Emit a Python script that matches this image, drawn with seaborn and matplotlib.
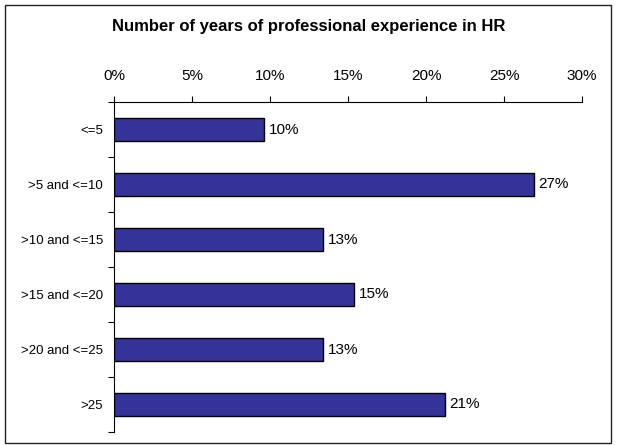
import matplotlib
matplotlib.use("Agg")
import matplotlib.pyplot as plt
import seaborn as sns
import pandas as pd
import numpy as np
from matplotlib.patches import Rectangle

# Share of respondents by years of professional experience in HR (%)
categories = ["<=5", ">5 and <=10", ">10 and <=15", ">15 and <=20", ">20 and <=25", ">25"]
shares = [9.6, 26.9, 13.4, 15.4, 13.4, 21.2]
x_ticks = [0, 5, 10, 15, 20, 25, 30]
x_tick_labels = ["0%", "5%", "10%", "15%", "20%", "25%", "30%"]
title = "Number of years of professional experience in HR"

df = pd.DataFrame({"category": categories, "share": shares})

sns.set_theme(style="white")
plt.rcParams["font.family"] = ["Liberation Sans", "DejaVu Sans"]

fig = plt.figure(figsize=(6.17, 4.45), dpi=100)
# axes spans x 114..582 px, y 102..432 px
ax = fig.add_axes([114 / 617, 1 - 432 / 445, 468 / 617, 330 / 445])

sns.barplot(data=df, x="share", y="category", order=categories, orient="h",
            color="#333399", saturation=1, width=0.41,
            edgecolor="black", linewidth=1.0, ax=ax)

ax.set_xlim(0, 30)
ax.set_ylim(len(categories) - 0.5, -0.5)
ax.set_xlabel("")
ax.set_ylabel("")

# value axis on top
ax.xaxis.tick_top()
ax.set_xticks(x_ticks)
ax.set_xticklabels(x_tick_labels, fontsize=11)
ax.tick_params(axis="x", which="major", direction="out", length=4.5, width=0.8,
               color="black", pad=9, labelcolor="black", top=True, bottom=False)

# category labels at band centres, tick marks at band boundaries
ax.set_yticks(np.arange(len(categories)))
ax.set_yticklabels(categories, fontsize=9.5)
ax.tick_params(axis="y", which="major", length=0, pad=8, labelcolor="black")
ax.set_yticks(np.arange(len(categories) + 1) - 0.5, minor=True)
ax.tick_params(axis="y", which="minor", direction="out", length=4.5, width=0.8,
               color="black", left=True)

for side in ["right", "bottom"]:
    ax.spines[side].set_visible(False)
for side in ["left", "top"]:
    ax.spines[side].set_visible(True)
    ax.spines[side].set_color("black")
    ax.spines[side].set_linewidth(0.8)

# value labels at bar ends
for i, v in enumerate(shares):
    ax.text(v + 0.3, i, f"{v:.0f}%", va="center", ha="left",
            fontsize=11, color="black")

fig.text(309 / 617, 1 - 27 / 445, title, ha="center", va="center",
         fontsize=12, fontweight="bold", color="black")

# chart frame
fig.patches.append(Rectangle((4.5 / 617, 2 / 445), 606 / 617, 438 / 445,
                             transform=fig.transFigure, fill=False,
                             edgecolor="#222222", linewidth=1.0))

fig.savefig("out.png", dpi=100)
